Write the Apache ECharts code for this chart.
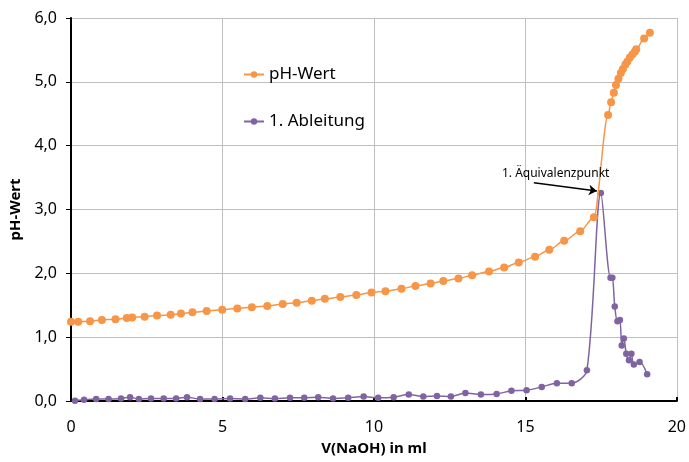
<!DOCTYPE html>
<html>
<head>
<meta charset="utf-8">
<script src="https://cdn.jsdelivr.net/npm/echarts@6/dist/echarts.min.js"></script>
<style>
  html, body { margin: 0; padding: 0; background: #fff; }
  #titrationChart { width: 689px; height: 462px; }
</style>
</head>
<body>
<div id="titrationChart"></div>
<script>
var phVolume = [0, 0.24, 0.63, 1.02, 1.47, 1.84, 2.02, 2.43, 2.84, 3.29, 3.63, 4.01, 4.48, 4.99, 5.49, 5.97, 6.48, 6.99, 7.45, 7.95,
    8.38, 8.89, 9.42, 9.92, 10.38, 10.91, 11.37, 11.87, 12.29, 12.79, 13.24, 13.80, 14.30, 14.78, 15.32, 15.79, 16.28, 16.81, 17.26,
    17.73, 17.83, 17.92, 17.99, 18.07, 18.15, 18.22, 18.30, 18.37, 18.45, 18.53, 18.61, 18.66, 18.92, 19.11];
var phValues = [1.24, 1.24, 1.25, 1.27, 1.28, 1.30, 1.31, 1.32, 1.34, 1.35, 1.37, 1.39, 1.41, 1.43, 1.45, 1.47, 1.49, 1.52, 1.54, 1.57,
    1.60, 1.63, 1.66, 1.70, 1.72, 1.76, 1.80, 1.84, 1.88, 1.92, 1.97, 2.03, 2.09, 2.17, 2.26, 2.37, 2.51, 2.66, 2.88,
    4.48, 4.68, 4.83, 4.95, 5.05, 5.14, 5.20, 5.27, 5.32, 5.38, 5.43, 5.47, 5.51, 5.68, 5.77];

var derivVolume = [0.13, 0.43, 0.83, 1.24, 1.65, 1.95, 2.24, 2.64, 3.06, 3.47, 3.83, 4.26, 4.74, 5.25, 5.75, 6.25, 6.73, 7.23, 7.70,
    8.16, 8.65, 9.15, 9.66, 10.14, 10.65, 11.15, 11.63, 12.08, 12.54, 13.02, 13.53, 14.05, 14.54, 15.04, 15.54, 16.04, 16.53, 17.03,
    17.49, 17.81, 17.87, 17.95, 18.04, 18.12, 18.18, 18.25, 18.33, 18.42, 18.50, 18.58, 18.77, 19.02];
var derivValues = [0.005, 0.02, 0.03, 0.03, 0.04, 0.06, 0.03, 0.04, 0.04, 0.04, 0.06, 0.03, 0.03, 0.04, 0.03, 0.05, 0.04, 0.05, 0.05,
    0.06, 0.04, 0.05, 0.07, 0.05, 0.06, 0.10, 0.07, 0.08, 0.07, 0.125, 0.10, 0.11, 0.16, 0.17, 0.22, 0.28, 0.28, 0.48,
    3.26, 1.93, 1.93, 1.48, 1.25, 1.27, 0.87, 0.98, 0.74, 0.64, 0.74, 0.57, 0.61, 0.42];

// Annotation: Pfeil zum Äquivalenzpunkt
var arrowStart = [15.28, 3.42];
var arrowEnd = [17.36, 3.29];
var annoText = '1. Äquivalenzpunkt';
var annoPos = [16.0, 3.56];

var fontName = 'Noto Sans';

function pairs(xs, ys) {
    var out = [];
    for (var i = 0; i < xs.length; i++) {
        out.push([xs[i], ys[i]]);
    }
    return out;
}

var chart = echarts.init(document.getElementById('titrationChart'));
var option = {
    animation: false,
    textStyle: { fontFamily: fontName },
    grid: { left: 71, right: 12, top: 18, bottom: 61 },
    legend: {
        orient: 'vertical',
        left: 238,
        top: 61,
        itemGap: 30,
        itemWidth: 20,
        itemHeight: 8,
        textStyle: { fontFamily: fontName, fontSize: 17, color: '#000' },
        data: ['pH-Wert', '1. Ableitung']
    },
    xAxis: {
        type: 'value',
        min: 0,
        max: 20,
        interval: 5,
        name: 'V(NaOH) in ml',
        nameLocation: 'middle',
        nameGap: 40,
        nameTextStyle: { fontFamily: fontName, fontSize: 15, fontWeight: 'bold', color: '#000' },
        axisLine: { lineStyle: { color: '#000', width: 2 } },
        axisTick: { show: true, inside: true, length: 4, lineStyle: { color: '#000', width: 2 } },
        axisLabel: { fontSize: 16, color: '#000', margin: 18 },
        splitLine: { show: true, lineStyle: { color: '#bfbfbf', width: 1 } }
    },
    yAxis: {
        type: 'value',
        min: 0,
        max: 6,
        interval: 1,
        name: 'pH-Wert',
        nameLocation: 'middle',
        nameGap: 47,
        nameTextStyle: { fontFamily: fontName, fontSize: 15, fontWeight: 'bold', color: '#000' },
        axisLine: { show: true, lineStyle: { color: '#000', width: 2 } },
        axisTick: { show: true, length: 5, lineStyle: { color: '#000', width: 1 } },
        axisLabel: {
            fontSize: 16, color: '#000', margin: 14,
            formatter: function (v) { return v.toFixed(1).replace('.', ','); }
        },
        splitLine: { show: true, lineStyle: { color: '#bfbfbf', width: 1 } }
    },
    series: [
        {
            name: 'pH-Wert',
            type: 'line',
            data: pairs(phVolume, phValues),
            smooth: 0.3,
            smoothMonotone: 'x',
            symbol: 'circle',
            symbolSize: 8,
            itemStyle: { color: '#f79646' },
            lineStyle: { color: '#f79646', width: 1.5 },
            z: 3
        },
        {
            name: '1. Ableitung',
            type: 'line',
            data: pairs(derivVolume, derivValues),
            smooth: 0.3,
            symbol: 'circle',
            symbolSize: 6.5,
            itemStyle: { color: '#8064a2' },
            lineStyle: { color: '#8064a2', width: 1.5 },
            z: 2,
            markLine: {
                silent: true,
                symbol: ['none', 'arrow'],
                symbolSize: 8,
                label: { show: false },
                lineStyle: { color: '#000', width: 1.5, type: 'solid' },
                data: [[{ coord: arrowStart }, { coord: arrowEnd }]]
            },
            markPoint: {
                silent: true,
                symbol: 'rect',
                symbolSize: 1,
                itemStyle: { color: 'transparent' },
                label: {
                    show: true,
                    position: 'inside',
                    color: '#000',
                    fontSize: 12,
                    fontFamily: fontName,
                    formatter: annoText
                },
                data: [{ coord: annoPos }]
            }
        }
    ]
};
chart.setOption(option);
</script>
</body>
</html>
